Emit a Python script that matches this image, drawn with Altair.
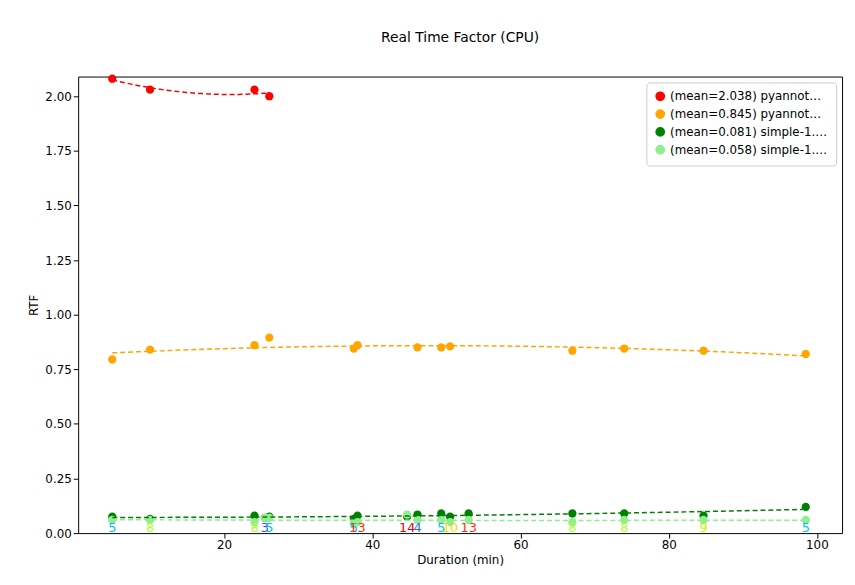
import altair as alt
import pandas as pd

MODELS = ["pyannote-1.0.0", "pyannote-1.1.0", "simple-1.0.1", "simple-1.1.0"]
MEANS = [2.038, 0.845, 0.081, 0.058]
COLORS = ["red", "orange", "green", "lightgreen"]

dur_pya0 = [4.9, 10.0, 24.1, 26.1]
rtf_pya0 = [2.08, 2.03, 2.03, 2.00]

dur_pya1 = [4.9, 10.0, 24.1, 26.1, 37.5, 38.0, 46.1, 49.3, 50.5, 67.0, 74.0, 84.7, 98.5]
rtf_pya1 = [0.795, 0.84, 0.86, 0.895, 0.845, 0.86, 0.85, 0.85, 0.855, 0.835, 0.845, 0.835, 0.82]

dur_simple = [4.9, 10.0, 24.1, 25.5, 26.1, 37.5, 38.0, 44.7, 46.1, 49.3, 50.5, 53.0, 67.0, 74.0, 84.7, 98.5]
rtf_s0 = [0.075, 0.065, 0.08, 0.07, 0.075, 0.065, 0.08, 0.075, 0.085, 0.09, 0.075, 0.09, 0.09, 0.09, 0.08, 0.12]
rtf_s1 = [0.06, 0.06, 0.05, 0.07, 0.07, 0.04, 0.05, 0.085, 0.06, 0.06, 0.05, 0.06, 0.05, 0.06, 0.06, 0.06]
speakers = ["5", "8", "8", "3", "5", "5", "13", "14", "4", "5", "10", "13", "8", "8", "9", "5"]
spk_colors = ["#00bfff", "#adff2f", "#adff2f", "#1f4fff", "#00bfff", "#00bfff", "#ff3010",
              "#e00000", "#1f6fff", "#00bfff", "#ffd700", "#ff3010", "#adff2f", "#adff2f",
              "#d4f000", "#00bfff"]

rows = []
for name, durs, rtfs in [
    (MODELS[0], dur_pya0, rtf_pya0),
    (MODELS[1], dur_pya1, rtf_pya1),
    (MODELS[2], dur_simple, rtf_s0),
    (MODELS[3], dur_simple, rtf_s1),
]:
    label = f"(mean={MEANS[MODELS.index(name)]:.3f}) {name}"
    rows += [{"model": label, "dur": d, "rtf": r} for d, r in zip(durs, rtfs)]
df = pd.DataFrame(rows)
labels = [f"(mean={m:.3f}) {n}" for m, n in zip(MEANS, MODELS)]
spk = pd.DataFrame({"dur": dur_simple, "n": speakers, "c": spk_colors})

xs = alt.Scale(domain=[0.3, 103.4], nice=False, zero=False)
ys = alt.Scale(domain=[0, 2.09], nice=False)
col = alt.Scale(domain=labels, range=COLORS)
legend = alt.Legend(title=None, orient="top-right", symbolType="circle",
                    strokeColor="#cccccc", fillColor="white", padding=8, offset=6,
                    labelFontSize=12, symbolSize=70, cornerRadius=3)

points = alt.Chart(df).mark_circle(size=70, opacity=1).encode(
    x=alt.X("dur:Q", scale=xs, title="Duration (min)",
            axis=alt.Axis(values=[20, 40, 60, 80, 100], grid=False)),
    y=alt.Y("rtf:Q", scale=ys, title="RTF",
            axis=alt.Axis(values=[0, 0.25, 0.5, 0.75, 1, 1.25, 1.5, 1.75, 2], format=".2f", grid=False)),
    color=alt.Color("model:N", scale=col, sort=labels, legend=legend),
)
trend = alt.Chart(df).transform_regression(
    "dur", "rtf", method="poly", order=2, groupby=["model"]
).mark_line(strokeDash=[5, 3], strokeWidth=1.5).encode(
    x=alt.X("dur:Q", scale=xs), y=alt.Y("rtf:Q", scale=ys),
    color=alt.Color("model:N", scale=col, sort=labels, legend=legend),
)
texts = alt.Chart(spk).mark_text(fontSize=13, baseline="middle").encode(
    x=alt.X("dur:Q", scale=xs), y=alt.datum(0.022), text="n:N",
    color=alt.Color("c:N", scale=None),
)

chart = (points + trend + texts).properties(
    width=773, height=462,
    padding={"left": 20, "top": 20, "right": 5, "bottom": 5},
    title=alt.Title("Real Time Factor (CPU)", fontSize=14, fontWeight="normal", offset=30),
).configure(font="DejaVu Sans").configure_view(stroke="black", strokeWidth=1).configure_axis(
    labelFontSize=12, titleFontSize=12, titleFontWeight="normal", domain=False,
    tickColor="black", labelColor="black", titleColor="black",
).configure_legend(labelColor="black")

chart.save("out.html", embed_options={"renderer": "svg", "actions": False})
